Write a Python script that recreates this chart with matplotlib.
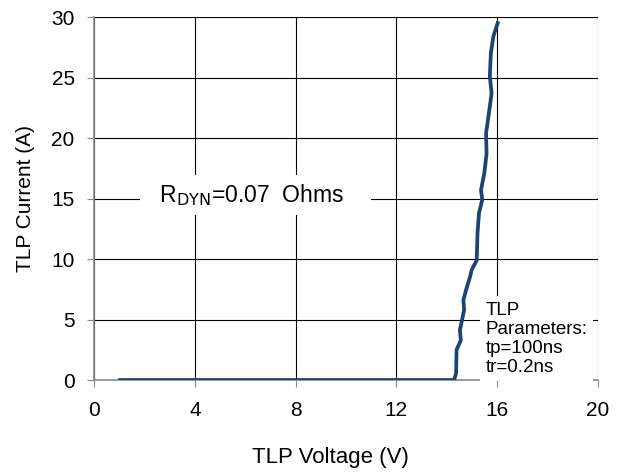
import matplotlib.pyplot as plt

plt.rcParams['font.family'] = ['Liberation Sans', 'DejaVu Sans']

# TLP I-V curve
voltage = [1.03, 14.29, 14.37, 14.39, 14.56, 14.52, 14.69, 14.66, 14.76, 14.92,
           14.99, 15.19, 15.22, 15.28, 15.41, 15.36, 15.49, 15.58, 15.56, 15.69,
           15.78, 15.71, 15.75, 15.85, 16.02]
current = [0.0, 0.0, 0.55, 2.5, 3.3, 4.1, 5.8, 6.6, 7.4, 8.5,
           9.1, 9.9, 12.1, 13.8, 14.9, 15.7, 17.1, 18.7, 20.4, 22.3,
           23.7, 25.1, 27.0, 28.4, 29.5]

xticks = [0, 4, 8, 12, 16, 20]
yticks = [0, 5, 10, 15, 20, 25, 30]

fig = plt.figure(figsize=(6.32, 4.75), dpi=100)
ax = fig.add_axes([0.149, 0.2, 0.797, 0.764])

ax.plot(voltage, current, color='#1a4472', linewidth=2.7, zorder=3)

ax.set_xlim(0, 20)
ax.set_ylim(0, 30)
ax.set_xticks(xticks)
ax.set_yticks(yticks)
ax.grid(True, color='black', linewidth=0.8)
ax.set_axisbelow(True)

for s in ['top', 'right']:
    ax.spines[s].set_visible(False)
for s in ['left', 'bottom']:
    ax.spines[s].set_color('#888888')
    ax.spines[s].set_linewidth(1.2)
ax.tick_params(direction='out', length=5, color='#888888', labelsize=15)
ax.tick_params(axis='x', pad=10)
ax.tick_params(axis='y', pad=9)

ax.set_xlabel('TLP Voltage (V)', fontsize=16)
ax.xaxis.set_label_coords(0.47, -0.185)
ax.set_ylabel('TLP Current (A)', fontsize=15, labelpad=12)

ax.text(6.4, 15.3, r'  R$_{\mathrm{DYN}}$=0.07  Ohms    ', fontsize=16.5, ha='center', va='center',
        bbox=dict(facecolor='white', edgecolor='none', pad=5), zorder=4)

ax.text(15.55, 0.35, 'TLP\nParameters:\ntp=100ns\ntr=0.2ns', fontsize=13.5, ha='left', va='bottom',
        linespacing=1.15,
        bbox=dict(facecolor='white', edgecolor='none', pad=4), zorder=4)

plt.savefig('out.png', dpi=100)
